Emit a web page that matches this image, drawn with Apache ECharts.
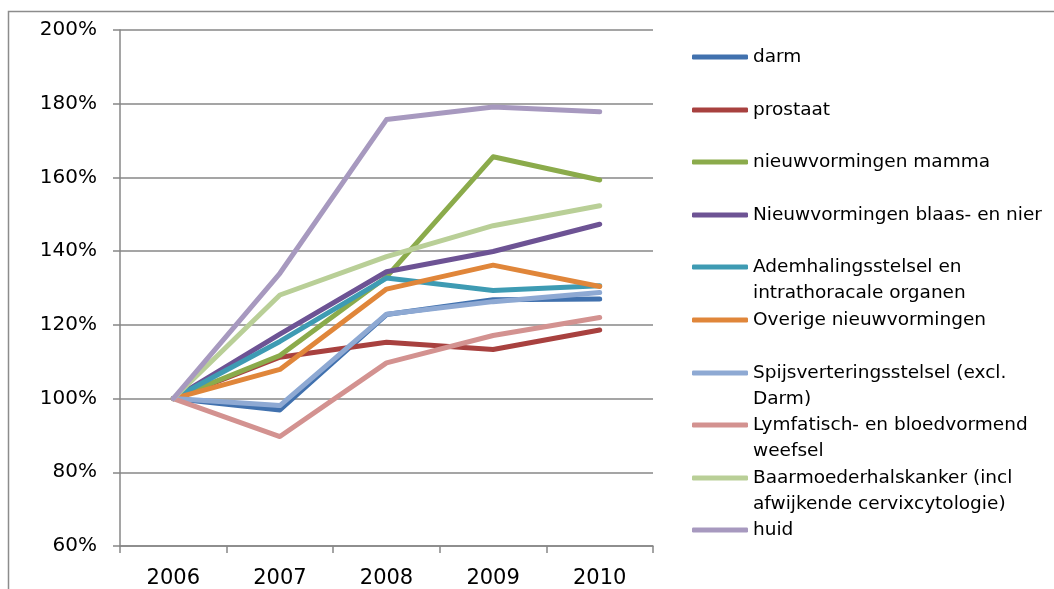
<!DOCTYPE html>
<html>
<head>
<meta charset="utf-8">
<title>Kankerzorg index 2006-2010</title>
<script src="https://cdn.jsdelivr.net/npm/echarts@6/dist/echarts.min.js"></script>
<style>
  html, body { margin: 0; padding: 0; background: #fff; }
  #chart { width: 1054px; height: 589px; }
</style>
</head>
<body>
<div id="chart"></div>
<script>
// jaren
const years = ["2006", "2007", "2008", "2009", "2010"];

// index t.o.v. 2006 (in %)
const darm = [100, 96.9, 122.8, 126.8, 127.0];
const prostaat = [100, 111.2, 115.3, 113.3, 118.6];
const mamma = [100, 111.7, 133.0, 165.6, 159.3];
const blaasNier = [100, 117.5, 134.4, 139.9, 147.3];
const ademhaling = [100, 115.5, 132.7, 129.3, 130.6];
const overige = [100, 107.9, 129.7, 136.2, 130.4];
const spijsvertering = [100, 98.1, 122.9, 126.3, 128.8];
const lymfatisch = [100, 89.7, 109.7, 117.1, 122.0];
const baarmoeder = [100, 128.1, 138.5, 146.9, 152.3];
const huid = [100, 134.0, 175.7, 179.1, 177.8];

const names = [
  "darm",
  "prostaat",
  "nieuwvormingen mamma",
  "Nieuwvormingen blaas- en nier",
  "Ademhalingsstelsel en intrathoracale organen",
  "Overige nieuwvormingen",
  "Spijsverteringsstelsel (excl. Darm)",
  "Lymfatisch- en bloedvormend weefsel",
  "Baarmoederhalskanker (incl afwijkende cervixcytologie)",
  "huid"
];
// legenda-teksten zoals ze in de figuur afbreken
const legendLabels = [
  "darm",
  "prostaat",
  "nieuwvormingen mamma",
  "Nieuwvormingen blaas- en nier",
  "Ademhalingsstelsel en\nintrathoracale organen",
  "Overige nieuwvormingen",
  "Spijsverteringsstelsel (excl.\nDarm)",
  "Lymfatisch- en bloedvormend\nweefsel",
  "Baarmoederhalskanker (incl\nafwijkende cervixcytologie)",
  "huid"
];
const values = [darm, prostaat, mamma, blaasNier, ademhaling, overige,
  spijsvertering, lymfatisch, baarmoeder, huid];
const colors = ["#4171AE", "#A8413F", "#8BAB4B", "#6D5394", "#3E9BB3",
  "#E0863A", "#8EA9D3", "#D39290", "#B9CF97", "#A799BF"];

const FONT = "DejaVu Sans";
const LH = 26;

const chart = echarts.init(document.getElementById("chart"));

// één legenda per item; bij twee regels een lege regel ervoor,
// zodat de eerste regel naast het lijntje staat
const legends = names.map((name, i) => {
  const twoLines = legendLabels[i].indexOf("\n") >= 0;
  const centerY = 57 + i * 52.6;
  return {
    data: [name],
    orient: "vertical",
    left: 692,
    top: Math.round(centerY - (twoLines ? 39 : 13)),
    padding: 0,
    icon: "roundRect",
    itemWidth: 56,
    itemHeight: 5,
    formatter: () => (twoLines ? "\n" : "") + legendLabels[i],
    selectedMode: false,
    textStyle: {
      fontFamily: FONT,
      fontSize: 18.5,
      color: "#000",
      lineHeight: LH
    }
  };
});

const option = {
  animation: false,
  color: colors,
  graphic: [{
    type: "rect",
    shape: { x: 8.5, y: 11.5, width: 1100, height: 700 },
    style: { fill: "none", stroke: "#8c8c8c", lineWidth: 1.5 },
    silent: true
  }],
  legend: legends,
  grid: { left: 120, right: 401, top: 30, bottom: 43 },
  xAxis: {
    type: "category",
    data: years,
    boundaryGap: true,
    axisLine: { lineStyle: { color: "#878787", width: 1.5 } },
    axisTick: { show: true, length: 7, lineStyle: { color: "#878787", width: 1.5 } },
    axisLabel: { fontFamily: FONT, fontSize: 21, color: "#000", margin: 22 }
  },
  yAxis: {
    type: "value",
    min: 60,
    max: 200,
    interval: 20,
    axisLine: { show: true, lineStyle: { color: "#878787", width: 1.5 } },
    axisTick: { show: true, length: 7, lineStyle: { color: "#878787", width: 1.5 } },
    splitLine: { lineStyle: { color: "#878787", width: 1.5 } },
    axisLabel: {
      fontFamily: FONT, fontSize: 20, color: "#000", margin: 23,
      formatter: v => v + "%"
    }
  },
  series: names.map((name, i) => ({
    name: name,
    type: "line",
    data: values[i],
    symbol: "none",
    lineStyle: { width: 5, cap: "round", join: "round" },
    z: 2 + i
  }))
};

chart.setOption(option);
</script>
</body>
</html>
